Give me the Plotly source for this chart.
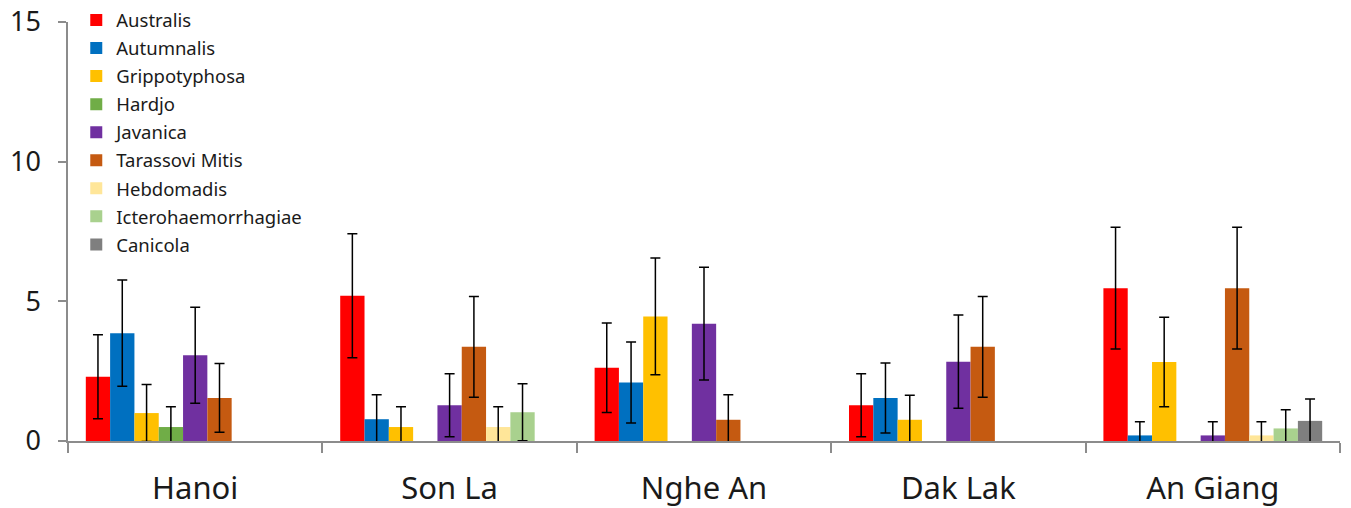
import plotly.graph_objects as go

regions = ["Hanoi", "Son La", "Nghe An", "Dak Lak", "An Giang"]
serovars = ["Australis", "Autumnalis", "Grippotyphosa", "Hardjo", "Javanica",
            "Tarassovi Mitis", "Hebdomadis", "Icterohaemorrhagiae", "Canicola"]
colors = ["#FF0000", "#0070C0", "#FFC000", "#70AD47", "#7030A0",
          "#C55A11", "#FFE699", "#A9D18E", "#7F7F7F"]

australis = [2.30, 5.20, 2.62, 1.28, 5.47]
australis_err = [1.50, 2.22, 1.60, 1.13, 2.18]
autumnalis = [3.86, 0.78, 2.09, 1.54, 0.20]
autumnalis_err = [1.90, 0.88, 1.45, 1.25, 0.49]
grippotyphosa = [1.00, 0.50, 4.46, 0.76, 2.83]
grippotyphosa_err = [1.02, 0.73, 2.09, 0.88, 1.60]
hardjo = [0.50, 0, 0, 0, 0]
hardjo_err = [0.73, 0, 0, 0, 0]
javanica = [3.07, 1.28, 4.20, 2.84, 0.20]
javanica_err = [1.72, 1.13, 2.02, 1.67, 0.49]
tarassovi = [1.54, 3.37, 0.76, 3.37, 5.47]
tarassovi_err = [1.23, 1.80, 0.90, 1.80, 2.18]
hebdomadis = [0, 0.50, 0, 0, 0.20]
hebdomadis_err = [0, 0.73, 0, 0, 0.49]
ictero = [0, 1.03, 0, 0, 0.45]
ictero_err = [0, 1.02, 0, 0, 0.67]
canicola = [0, 0, 0, 0, 0.72]
canicola_err = [0, 0, 0, 0, 0.78]

values = [australis, autumnalis, grippotyphosa, hardjo, javanica,
          tarassovi, hebdomadis, ictero, canicola]
errors = [australis_err, autumnalis_err, grippotyphosa_err, hardjo_err, javanica_err,
          tarassovi_err, hebdomadis_err, ictero_err, canicola_err]

FONT = "Noto Sans"

fig = go.Figure()
for name, col, v, e in zip(serovars, colors, values, errors):
    shown_v = [x if x > 0 else None for x in v]
    shown_e = [x if x > 0 else None for x in e]
    fig.add_trace(go.Bar(
        x=regions, y=shown_v, name=name, legendgroup=name,
        marker=dict(color=col, line=dict(width=0)),
        error_y=dict(type="data", array=shown_e, visible=True, color="black",
                     thickness=1.5, width=5),
    ))

# page body adds an 8px offset, so the figure is sized/margined to compensate
fig.update_layout(
    width=1343, height=500,
    barmode="group", bargap=0.14, bargroupgap=0,
    plot_bgcolor="white", paper_bgcolor="white",
    margin=dict(l=60, r=11, t=14, b=67, autoexpand=False),
    font=dict(family=FONT, color="#1a1a1a"),
    showlegend=True,
    legend=dict(x=0.0065, y=1.049, xanchor="left", yanchor="top",
                font=dict(size=18.5, family=FONT, color="#1a1a1a"),
                bgcolor="rgba(0,0,0,0)", tracegroupgap=1,
                maxheight=1, itemclick=False),
)
fig.update_yaxes(
    range=[0, 15], tickvals=[0, 5, 10, 15], showgrid=False, zeroline=False,
    showline=True, linecolor="#8c8c8c", linewidth=1.5, automargin=False,
    ticks="outside", ticklen=8, tickcolor="#8c8c8c", tickwidth=1.5,
    tickfont=dict(size=27, family=FONT, color="#1a1a1a"),
    ticklabelstandoff=12, ticklabeloverflow="allow",
)
fig.update_xaxes(
    showgrid=False, showline=True, linecolor="#8c8c8c", linewidth=1.5,
    automargin=False,
    ticks="outside", ticklen=10, tickcolor="#8c8c8c", tickwidth=1.5,
    tickson="boundaries",
    tickfont=dict(size=31, family=FONT, color="#1a1a1a"),
    ticklabelstandoff=19,
)

fig.write_html("out.html")
